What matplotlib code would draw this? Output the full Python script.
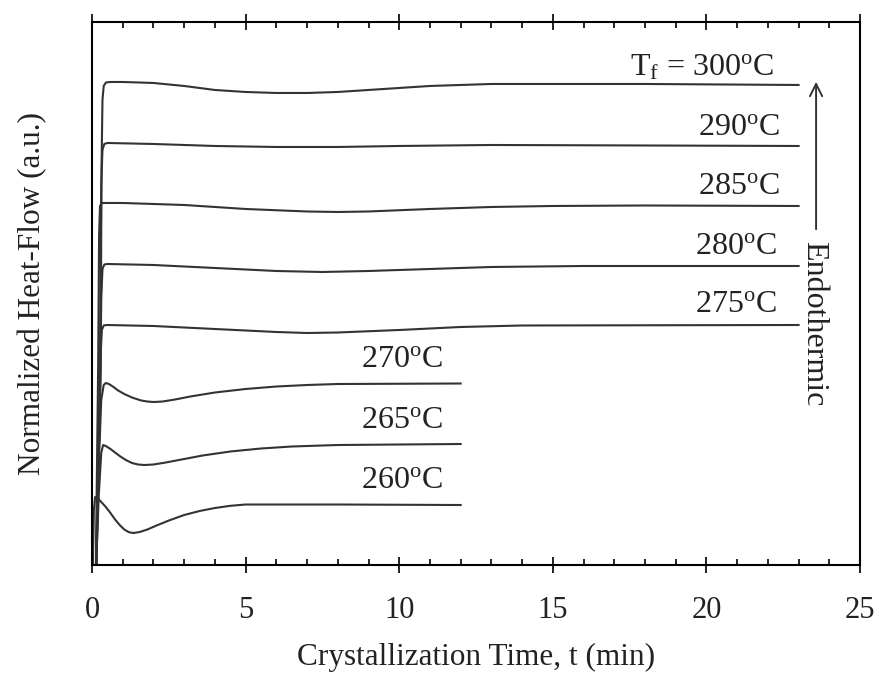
import numpy as np
import matplotlib.pyplot as plt
from matplotlib.ticker import MultipleLocator

plt.rcParams['font.family'] = ['Liberation Serif', 'DejaVu Serif']
plt.rcParams['mathtext.fontset'] = 'custom'
plt.rcParams['mathtext.rm'] = 'Liberation Serif'
plt.rcParams['mathtext.it'] = 'Liberation Serif:italic'

# crystallization time (min) and offset heat-flow (a.u.)
t_300 = [0.14, 0.28, 0.31, 0.34, 0.38, 0.45, 0.6, 1, 2, 3, 4, 5, 6, 7, 8, 9, 10, 11, 12, 13, 18, 23]
y_300 = [-1, 20, 40, 46.5, 47.9, 48.25, 48.3, 48.3, 48.2, 47.9, 47.5, 47.3, 47.2, 47.2, 47.3, 47.5, 47.7, 47.9, 48.0, 48.1, 48.1, 48.0]

t_290 = [0.14, 0.26, 0.3, 0.34, 0.4, 0.5, 2, 4, 6, 8, 10, 13, 18, 23]
y_290 = [-1, 20, 38, 41.5, 42.1, 42.2, 42.1, 41.9, 41.8, 41.8, 41.9, 42.0, 41.95, 41.9]

t_285 = [0.12, 0.2, 0.23, 0.26, 0.32, 1, 3, 5, 7, 8, 9, 11, 13, 15, 18, 23]
y_285 = [-1, 20, 33, 35.9, 36.2, 36.2, 36.0, 35.6, 35.35, 35.3, 35.35, 35.6, 35.8, 35.9, 35.95, 35.9]

t_280 = [0.12, 0.26, 0.3, 0.34, 0.4, 0.5, 2, 4, 6, 7.5, 9, 11, 13, 16, 23]
y_280 = [-1, 16, 26.5, 29.6, 30.05, 30.1, 30.0, 29.7, 29.4, 29.3, 29.4, 29.6, 29.8, 29.9, 29.9]

t_275 = [0.12, 0.24, 0.28, 0.32, 0.38, 0.48, 2, 4, 6, 7, 8, 10, 12, 14, 23]
y_275 = [-1, 14, 21, 23.5, 23.95, 24.0, 23.9, 23.6, 23.3, 23.2, 23.25, 23.5, 23.8, 23.95, 24.0]

t_270 = [0.12, 0.22, 0.3, 0.38, 0.45, 0.55, 0.7, 0.85, 1.05, 1.3, 1.6, 1.8, 2.0, 2.3, 2.7, 3.2, 4, 5, 6, 7, 8, 12]
y_270 = [-1, 10, 16.5, 18.0, 18.2, 18.1, 17.8, 17.45, 17.1, 16.75, 16.45, 16.35, 16.3, 16.35, 16.55, 16.85, 17.25, 17.6, 17.85, 18.0, 18.1, 18.15]

t_265 = [0.12, 0.22, 0.3, 0.36, 0.45, 0.6, 0.75, 0.9, 1.1, 1.3, 1.5, 1.7, 2.0, 2.4, 3.0, 3.6, 4.5, 5.5, 6.5, 8, 12]
y_265 = [-1, 7, 11.2, 12.0, 11.9, 11.6, 11.25, 10.9, 10.5, 10.2, 10.05, 10.0, 10.05, 10.25, 10.6, 10.95, 11.35, 11.65, 11.85, 12.0, 12.1]

t_260 = [0.02, 0.06, 0.1, 0.18, 0.3, 0.45, 0.6, 0.75, 0.9, 1.05, 1.2, 1.35, 1.55, 1.8, 2.1, 2.5, 3.0, 3.5, 4.0, 4.5, 5, 8, 12]
y_260 = [-1, 5.5, 6.8, 6.7, 6.3, 5.8, 5.2, 4.55, 4.0, 3.55, 3.28, 3.2, 3.3, 3.55, 3.95, 4.45, 5.0, 5.4, 5.7, 5.92, 6.05, 6.05, 6.0]

curves = [(t_300, y_300), (t_290, y_290), (t_285, y_285), (t_280, y_280),
          (t_275, y_275), (t_270, y_270), (t_265, y_265), (t_260, y_260)]

fig = plt.figure(figsize=(8.79, 6.74), dpi=100)
ax = fig.add_axes([0.1047, 0.1617, 0.8737, 0.8057])

for t, y in curves:
    ax.plot(t, y, color='#333333', lw=1.5, solid_joinstyle='round')

ax.set_xlim(0, 25)
ax.set_ylim(0, 54.3)

lbl = dict(fontsize=23, ha='right', va='center', color='#222222')
ax.text(22.2, 49.7, r'T$_{\rm f}$ = 300$^{\rm o}$C', **lbl)
ax.text(22.4, 43.7, r'290$^{\rm o}$C', **lbl)
ax.text(22.4, 37.8, r'285$^{\rm o}$C', **lbl)
ax.text(22.3, 31.8, r'280$^{\rm o}$C', **lbl)
ax.text(22.3, 26.0, r'275$^{\rm o}$C', **lbl)
ax.text(11.4, 20.5, r'270$^{\rm o}$C', **lbl)
ax.text(11.4, 14.5, r'265$^{\rm o}$C', **lbl)
ax.text(11.4, 8.5, r'260$^{\rm o}$C', **lbl)

ax.annotate('', xy=(23.57, 48.6), xytext=(23.57, 33.3),
            arrowprops=dict(arrowstyle='->', color='#333333', lw=1.4,
                            mutation_scale=22))
ax.text(23.5, 32.4, 'Endothermic', rotation=270, fontsize=23,
        ha='center', va='top', color='#222222')

ax.xaxis.set_major_locator(MultipleLocator(5))
ax.xaxis.set_minor_locator(MultipleLocator(1))
ax.tick_params(axis='x', which='major', direction='inout', length=11, width=1.4,
               top=True, labelsize=22, pad=17, colors='#222222')
ax.tick_params(axis='x', which='minor', direction='in', length=4, width=1.2, top=True)
ax.set_yticks([])
for s in ax.spines.values():
    s.set_linewidth(1.5)

ax.set_xlabel('Crystallization Time, t (min)', fontsize=22.5, labelpad=13, color='#222222')
ax.set_ylabel('Normalized Heat-Flow (a.u.)', fontsize=22.5, labelpad=32, color='#222222')

fig.savefig('out.png', dpi=100)
